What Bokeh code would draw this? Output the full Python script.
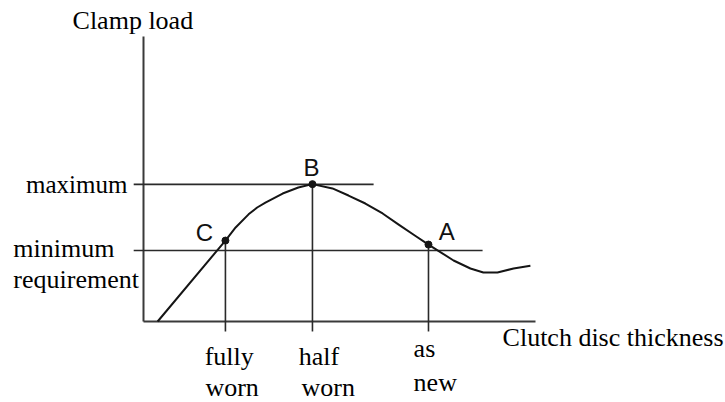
from bokeh.plotting import figure
from bokeh.models import Range1d
from bokeh.core.properties import value
from bokeh.embed import file_html
from bokeh.resources import INLINE

# ---------------- data (arbitrary units 0..10) -------------
thickness = [0.36, 2.09, 2.35, 2.68, 2.90, 3.11, 3.55, 3.95, 4.31, 4.82, 5.23, 5.66,
             6.10, 6.51, 6.94, 7.27, 7.91, 8.34, 8.67, 9.03, 9.44, 9.87]
clamp_load = [0.00, 2.84, 3.30, 3.76, 4.00, 4.17, 4.49, 4.70, 4.82, 4.67, 4.42, 4.14,
              3.79, 3.40, 3.00, 2.70, 2.14, 1.86, 1.72, 1.72, 1.86, 1.96]

point_names = ["C", "B", "A"]
point_x = [2.09, 4.31, 7.27]
point_y = [2.84, 4.82, 2.70]

x_tick_line1 = ["fully", "half", "as"]
x_tick_line2 = ["worn", "worn", "new"]

level_values = [4.81, 2.49]          # maximum, minimum requirement
level_ends = [5.87, 8.65]

axis_max = 10.0
x_title = "Clutch disc thickness"
y_title = "Clamp load"

# ---------------- layout ----------------
W, H = 725, 402
X0_PX, PX_PER_X = 143.0, 39.2        # figure pixel of x=0, pixels per unit
Y0_PX, PX_PER_Y = 321.0, 28.5        # figure pixel (from top) of y=0

x_range = Range1d(-X0_PX / PX_PER_X, (W - X0_PX) / PX_PER_X)
y_range = Range1d(-(H - Y0_PX) / PX_PER_Y, Y0_PX / PX_PER_Y)

p = figure(width=W, height=H, x_range=x_range, y_range=y_range,
           output_backend="svg", toolbar_location=None,
           x_axis_type=None, y_axis_type=None, min_border=0,
           outline_line_color=None, background_fill_color="white",
           border_fill_color="white")
p.grid.visible = False

SERIF = value("Liberation Serif")
SANS = value("Liberation Sans")
FS = "26px"
INK = "#151515"
tick_out = 0.25     # how far the level lines stick out left of the y axis
drop = 0.35         # how far the drop lines go below the x axis
DY = 8.0 / PX_PER_Y  # baseline correction for text rendering


def ty(vals):
    return [v + DY for v in vals]


# axes
p.segment(x0=[0, 0], y0=[0, 0], x1=[0, axis_max], y1=[axis_max, 0],
          line_color="#3a3a3a", line_width=2)

# level lines (maximum, minimum)
p.segment(x0=[-tick_out] * len(level_values), y0=level_values,
          x1=level_ends, y1=level_values, line_color="#2a2a2a", line_width=1.6)

# drop lines from points C, B, A
p.segment(x0=point_x, y0=point_y, x1=point_x, y1=[-drop] * len(point_x),
          line_color="#2a2a2a", line_width=1.6)

# curve
p.line(thickness, clamp_load, line_color=INK, line_width=2, line_join="round")

# points
p.scatter(point_x, point_y, size=7, color=INK)

# point letters
p.text(x=[1.33, 4.08, 7.53], y=ty([2.84, 5.12, 2.88]), text=point_names,
       text_font=SANS, text_font_size="24px", text_color="#111111",
       text_align="left", text_baseline="alphabetic")

# axis titles
p.text(x=[-1.81], y=ty([10.28]), text=[y_title], text_font=SERIF,
       text_font_size=FS, text_color="black",
       text_align="left", text_baseline="alphabetic")
p.text(x=[9.16], y=ty([-0.84]), text=[x_title], text_font=SERIF,
       text_font_size=FS, text_color="black",
       text_align="left", text_baseline="alphabetic")

# y labels
p.text(x=[-0.41], y=ty([4.54]), text=["maximum"], text_font=SERIF,
       text_font_size="25px", text_color="black",
       text_align="right", text_baseline="alphabetic")
p.text(x=[-3.32, -3.32], y=ty([2.29, 1.20]), text=["minimum", "requirement"],
       text_font=SERIF, text_font_size=FS, text_color="black",
       text_align="left", text_baseline="alphabetic")

# x labels
p.text(x=[1.56, 3.96, 6.89], y=ty([-1.52, -1.52, -1.23]), text=x_tick_line1,
       text_font=SERIF, text_font_size=FS, text_color="black",
       text_align="left", text_baseline="alphabetic")
p.text(x=[1.58, 4.03, 6.89], y=ty([-2.60, -2.60, -2.42]), text=x_tick_line2,
       text_font=SERIF, text_font_size=FS, text_color="black",
       text_align="left", text_baseline="alphabetic")

open("out.html", "w").write(file_html(p, INLINE))
